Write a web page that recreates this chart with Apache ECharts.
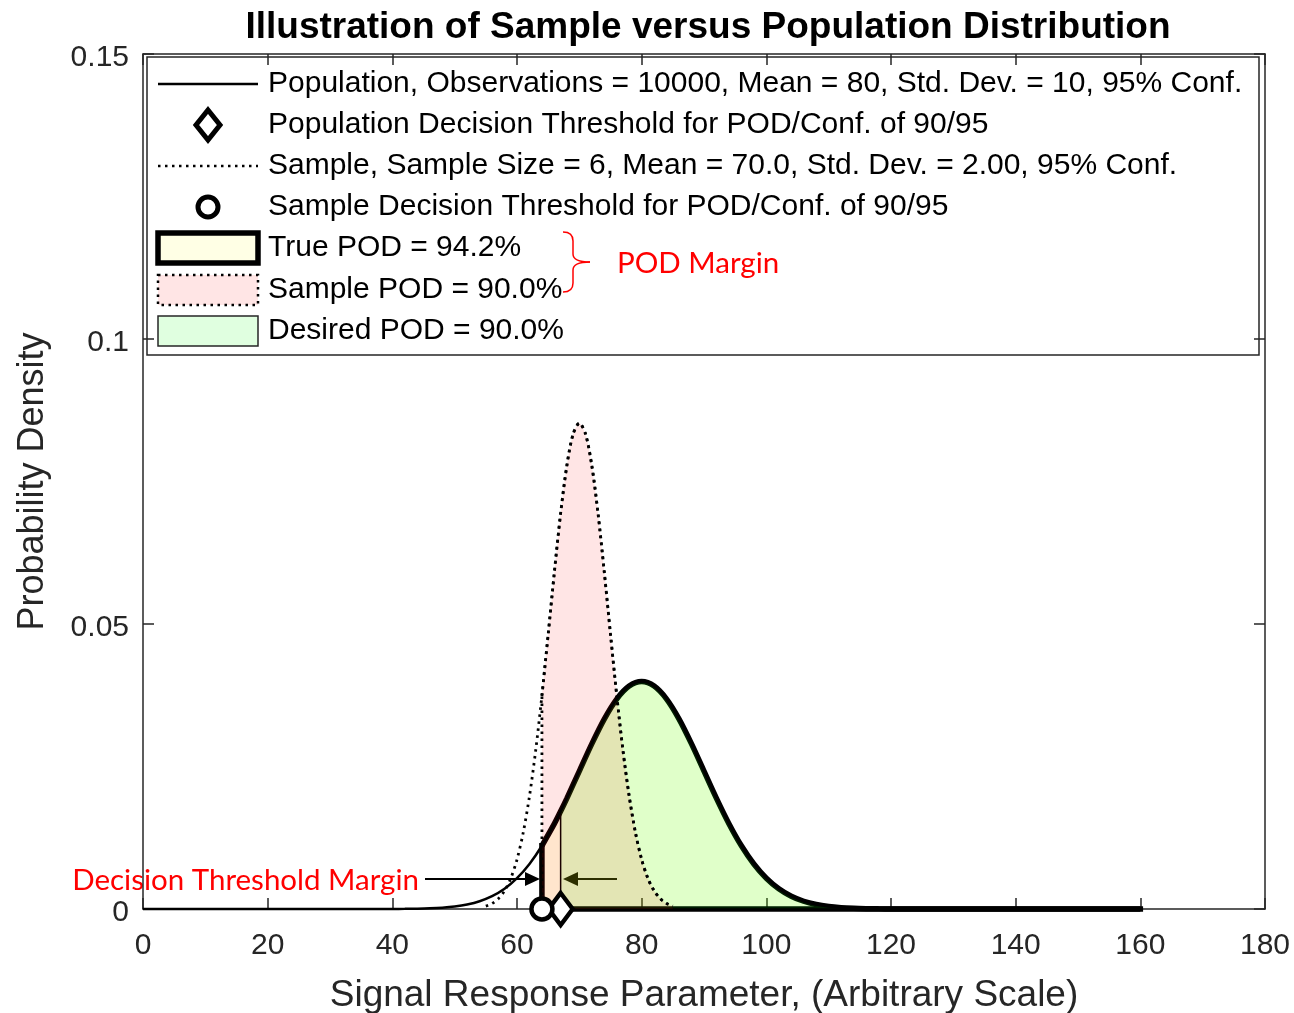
<!DOCTYPE html>
<html><head><meta charset="utf-8">
<script src="https://cdn.jsdelivr.net/npm/echarts@6/dist/echarts.min.js"></script>
<style>html,body{margin:0;padding:0;background:#fff}#c{width:1294px;height:1013px}</style>
</head><body><div id="c"></div>
<script>
// ---- data ----
const popX = [0,2,4,6,8,10,12,14,16,18,20,22,24,26,28,30,32,34,36,38,40,42,44,46,48,50,52,54,56,58,60,62,64,66,67,68,70,72,74,76,78,80,82,84,86,88,90,92,94,96,98,100,102,104,106,108,110,112,114,116,118,120,122,124,126,128,130,132,134,136,138,140,142,144,146,148,150,152,154,156,158,160];
const popY = [0,0,0,0,0,0,0,0,0,0,0,0,0,0,0,0,
  0.0000004,0.000001,0.0000025,0.0000059,0.0000134,0.0000292,0.0000612,0.000123,0.000238,0.000443,0.000792,0.001358,0.002239,0.003547,0.005399,0.007895,0.011092,0.014973,
  0.017140,
  0.019419,0.024197,0.028969,0.033322,0.036827,0.039104,0.039894,0.039104,0.036827,0.033322,0.028969,0.024197,0.019419,0.014973,0.011092,0.007895,0.005399,0.003547,0.002239,0.001358,0.000792,0.000443,0.000238,0.000123,0.0000612,0.0000292,0.0000134,0.0000059,0.0000025,0.000001,0.0000004,
  0,0,0,0,0,0,0,0,0,0,0,0,0,0,0,0];
const sampleX = [55,56,57,58,59,60,61,62,63,64,65,66,67,68,69,70,71,72,73,74,75,76,77,78,79,80,81,82,83,84,85];
const sampleY = [0.00050,0.00097,0.00180,0.00319,0.00538,0.00869,0.01342,0.01978,0.02784,0.03748,0.04817,0.05916,0.06941,0.07780,0.08332,0.08524,0.08332,0.07780,0.06941,0.05916,0.04817,0.03748,0.02784,0.01978,0.01342,0.00869,0.00538,0.00319,0.00180,0.00097,0.00050];
const popThreshold = 67;     // Population decision threshold (diamond)
const sampleThreshold = 64;  // Sample decision threshold (circle)
const legendLabels = [
  'Population, Observations = 10000, Mean = 80, Std. Dev. = 10, 95% Conf.',
  'Population Decision Threshold for POD/Conf. of 90/95',
  'Sample, Sample Size = 6, Mean = 70.0, Std. Dev. = 2.00, 95% Conf.',
  'Sample Decision Threshold for POD/Conf. of 90/95',
  'True POD = 94.2%',
  'Sample POD = 90.0%',
  'Desired POD = 90.0%'
];
const titleText = 'Illustration of Sample versus Population Distribution';
const xName = 'Signal Response Parameter, (Arbitrary Scale)';
const yName = 'Probability Density';

// ---- derived ----
const popPts = popX.map((x, i) => [x, popY[i]]);
const samplePts = sampleX.map((x, i) => [x, sampleY[i]]);
const popEnd = popX[popX.length - 1];
const trueCurve = popPts.filter(p => p[0] >= sampleThreshold);
const trueEdge = [[sampleThreshold, popY[popX.indexOf(sampleThreshold)]], [sampleThreshold, 0], [popEnd, 0]];
const desiredCurve = popPts.filter(p => p[0] >= popThreshold);
const desiredEdge = [[popThreshold, popY[popX.indexOf(popThreshold)]], [popThreshold, 0], [popEnd, 0]];
const samplePodPts = samplePts.filter(p => p[0] >= sampleThreshold);
const sampleEdge = [[sampleThreshold, 0], [sampleThreshold, sampleY[sampleX.indexOf(sampleThreshold)]]];

const yellowFill = 'rgba(255,255,0,0.10)';
const greenFill = 'rgba(0,255,0,0.12)';
const pinkFill = 'rgba(255,0,0,0.10)';
const AX = '#262626';
const FONT = '"Liberation Sans", Arial, Helvetica, sans-serif';
const RFONT = '29.5px Lato, "Open Sans", sans-serif';
const DOT = [2.5, 4.5];

const chart = echarts.init(document.getElementById('c'), null, {renderer: 'canvas'});

const rowY = [84, 125, 166, 207, 248, 290, 331];
const legendEls = [
  {type: 'rect', shape: {x: 147, y: 57, width: 1112, height: 298}, style: {fill: '#fff', stroke: AX, lineWidth: 1.5}},
  {type: 'line', shape: {x1: 158, y1: rowY[0], x2: 258, y2: rowY[0]}, style: {stroke: '#000', lineWidth: 2.5}},
  {type: 'polygon', shape: {points: [[208, rowY[1] - 15], [220, rowY[1]], [208, rowY[1] + 15], [196, rowY[1]]]}, style: {fill: '#fff', stroke: '#000', lineWidth: 5}},
  {type: 'line', shape: {x1: 158, y1: rowY[2], x2: 258, y2: rowY[2]}, style: {stroke: '#000', lineWidth: 2.5, lineDash: DOT}},
  {type: 'circle', shape: {cx: 208, cy: rowY[3], r: 10}, style: {fill: '#fff', stroke: '#000', lineWidth: 5}},
  {type: 'rect', shape: {x: 158, y: rowY[4] - 15, width: 100, height: 30}, style: {fill: yellowFill, stroke: '#000', lineWidth: 5.5}},
  {type: 'rect', shape: {x: 158, y: rowY[5] - 15, width: 100, height: 30}, style: {fill: pinkFill, stroke: '#000', lineWidth: 2.5, lineDash: DOT}},
  {type: 'rect', shape: {x: 158, y: rowY[6] - 15, width: 100, height: 30}, style: {fill: greenFill, stroke: AX, lineWidth: 1.5}}
];
legendLabels.forEach((t, i) => {
  legendEls.push({type: 'text', x: 268, y: rowY[i], style: {text: t, font: '30px ' + FONT, fill: '#000', align: 'left', verticalAlign: 'middle'}});
});

const braceStyle = {fill: 'none', stroke: '#ff0000', lineWidth: 1.5};
const annEls = [
  // Decision threshold margin arrows
  {type: 'line', shape: {x1: 425, y1: 879, x2: 528, y2: 879}, style: {stroke: '#000', lineWidth: 2}},
  {type: 'polygon', shape: {points: [[540, 879], [525, 872], [525, 886]]}, style: {fill: '#000'}},
  {type: 'line', shape: {x1: 617, y1: 879, x2: 575, y2: 879}, style: {stroke: '#000', lineWidth: 2}},
  {type: 'polygon', shape: {points: [[563, 879], [578, 872], [578, 886]]}, style: {fill: '#000'}},
  {type: 'text', x: 419, y: 880, style: {text: 'Decision Threshold Margin', font: RFONT, fill: '#ff0000', align: 'right', verticalAlign: 'middle'}},
  // POD margin brace
  {type: 'bezierCurve', shape: {x1: 563, y1: 232, cpx1: 573, cpy1: 232, x2: 573, y2: 241}, style: braceStyle},
  {type: 'line', shape: {x1: 573, y1: 241, x2: 573, y2: 254}, style: braceStyle},
  {type: 'bezierCurve', shape: {x1: 573, y1: 254, cpx1: 573, cpy1: 262, x2: 590, y2: 262}, style: braceStyle},
  {type: 'bezierCurve', shape: {x1: 590, y1: 262, cpx1: 573, cpy1: 262, x2: 573, y2: 270}, style: braceStyle},
  {type: 'line', shape: {x1: 573, y1: 270, x2: 573, y2: 283}, style: braceStyle},
  {type: 'bezierCurve', shape: {x1: 573, y1: 283, cpx1: 573, cpy1: 292, x2: 563, y2: 292}, style: braceStyle},
  {type: 'text', x: 617, y: 263, style: {text: 'POD Margin', font: RFONT, fill: '#ff0000', align: 'left', verticalAlign: 'middle'}}
];

const option = {
  animation: false,
  backgroundColor: '#fff',
  title: {text: titleText, left: 703, top: 4, textAlign: 'center',
    textStyle: {fontFamily: FONT, fontSize: 37, fontWeight: 'bold', color: '#000'}},
  grid: {left: 143, top: 54, right: 29, bottom: 104, containLabel: false, outerBoundsMode: 'none'},
  xAxis: [
    {type: 'value', min: 0, max: 180, interval: 20, position: 'bottom',
      name: xName, nameLocation: 'middle', nameGap: 68,
      nameTextStyle: {fontFamily: FONT, fontSize: 37, color: AX},
      axisLine: {show: true, onZero: false, lineStyle: {color: AX, width: 1.5}},
      axisTick: {show: true, inside: true, length: 11, lineStyle: {color: AX, width: 1.5}},
      axisLabel: {fontFamily: FONT, fontSize: 30, color: AX, margin: 22},
      splitLine: {show: false}},
    {type: 'value', min: 0, max: 180, interval: 20, position: 'top',
      axisLine: {show: true, onZero: false, lineStyle: {color: AX, width: 1.5}},
      axisTick: {show: true, inside: true, length: 11, lineStyle: {color: AX, width: 1.5}},
      axisLabel: {show: false}, splitLine: {show: false}}
  ],
  yAxis: [
    {type: 'value', min: 0, max: 0.15, interval: 0.05, position: 'left',
      name: yName, nameLocation: 'middle', nameGap: 92, nameRotate: 90,
      nameTextStyle: {fontFamily: FONT, fontSize: 36, color: AX},
      axisLine: {show: true, onZero: false, lineStyle: {color: AX, width: 1.5}},
      axisTick: {show: true, inside: true, length: 11, lineStyle: {color: AX, width: 1.5}},
      axisLabel: {fontFamily: FONT, fontSize: 30, color: AX, margin: 14, formatter: '{a|{value}}',
        rich: {a: {fontFamily: FONT, fontSize: 30, color: AX, padding: [8, 0, 0, 0]}}},
      splitLine: {show: false}},
    {type: 'value', min: 0, max: 0.15, interval: 0.05, position: 'right',
      axisLine: {show: true, onZero: false, lineStyle: {color: AX, width: 1.5}},
      axisTick: {show: true, inside: true, length: 11, lineStyle: {color: AX, width: 1.5}},
      axisLabel: {show: false}, splitLine: {show: false}}
  ],
  series: [
    {name: 'True POD', type: 'line', data: trueCurve, symbol: 'none', smooth: 0.3, clip: false, z: 2,
      lineStyle: {color: '#000', width: 5.5}, areaStyle: {color: yellowFill, opacity: 1}},
    {name: 'True POD edge', type: 'line', data: trueEdge, symbol: 'none', clip: false, z: 2,
      lineStyle: {color: '#000', width: 5.5, join: 'miter', cap: 'square'}},
    {name: 'Desired POD', type: 'line', data: desiredCurve, symbol: 'none', smooth: 0.3, clip: false, z: 3,
      lineStyle: {color: '#000', width: 1.5}, areaStyle: {color: greenFill, opacity: 1}},
    {name: 'Desired POD edge', type: 'line', data: desiredEdge, symbol: 'none', clip: false, z: 3,
      lineStyle: {color: '#000', width: 1.5}},
    {name: 'Sample POD', type: 'line', data: samplePodPts, symbol: 'none', smooth: 0.3, clip: false, z: 4,
      lineStyle: {color: '#000', width: 2.8, type: DOT}, areaStyle: {color: pinkFill, opacity: 1}},
    {name: 'Sample POD edge', type: 'line', data: sampleEdge, symbol: 'none', clip: false, z: 4,
      lineStyle: {color: '#000', width: 2.8, type: DOT}},
    {name: 'Population', type: 'line', data: popPts, symbol: 'none', smooth: 0.3, clip: false, z: 5,
      lineStyle: {color: '#000', width: 2.5}},
    {name: 'Sample', type: 'line', data: samplePts, symbol: 'none', smooth: 0.3, clip: false, z: 5,
      lineStyle: {color: '#000', width: 2.8, type: DOT}},
    {name: 'Population Decision Threshold', type: 'scatter', data: [[popThreshold, 0]], symbol: 'diamond', symbolSize: [24, 32], clip: false, z: 6,
      itemStyle: {color: '#fff', borderColor: '#000', borderWidth: 4.5, opacity: 1}},
    {name: 'Sample Decision Threshold', type: 'scatter', data: [[sampleThreshold, 0]], symbol: 'circle', symbolSize: 21, clip: false, z: 7,
      itemStyle: {color: '#fff', borderColor: '#000', borderWidth: 4.5, opacity: 1}}
  ],
  graphic: {elements: legendEls.concat(annEls)}
};
chart.setOption(option);
</script>
</body></html>
